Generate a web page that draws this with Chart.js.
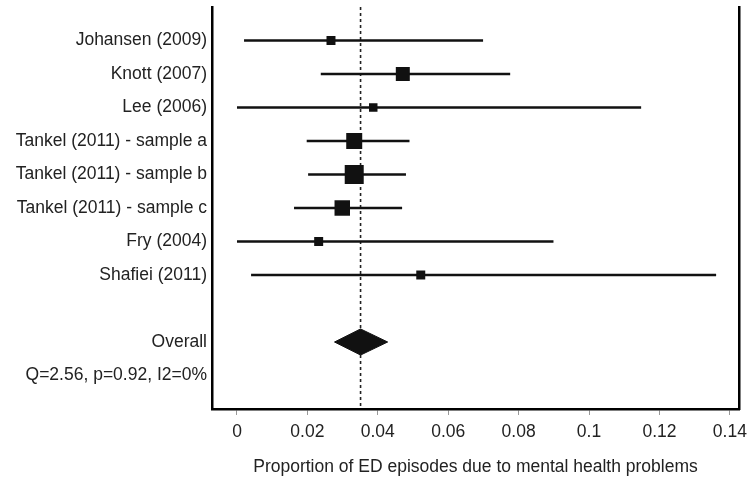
<!DOCTYPE html>
<html><head><meta charset="utf-8">
<script src="https://cdn.jsdelivr.net/npm/chart.js@4.4.0/dist/chart.umd.min.js"></script>
<style>html,body{margin:0;padding:0;background:#fff}</style>
</head><body>
<canvas id="c" width="748" height="482"></canvas>
<script>
// ---- data ----
const studies = ['Johansen (2009)', 'Knott (2007)', 'Lee (2006)', 'Tankel (2011) - sample a',
  'Tankel (2011) - sample b', 'Tankel (2011) - sample c', 'Fry (2004)', 'Shafiei (2011)'];
const estimates = [0.0267, 0.0471, 0.0387, 0.0333, 0.0333, 0.0299, 0.0232, 0.0522];
const lowerCI   = [0.0020, 0.0238, 0.0000, 0.0198, 0.0202, 0.0162, 0.0000, 0.0040];
const upperCI   = [0.0699, 0.0776, 0.1148, 0.0490, 0.0480, 0.0469, 0.0899, 0.1361];
const weights   = [5.9, 14.3, 5.3, 18.7, 26.4, 17.5, 5.9, 5.9];   // % weight (marker area)
const overallLabel = 'Overall';
const overallEst = 0.0351, overallLo = 0.0277, overallHi = 0.0428;
const heterogeneityText = 'Q=2.56, p=0.92, I2=0%';
const xTickValues = [0, 0.02, 0.04, 0.06, 0.08, 0.1, 0.12, 0.14];
const xTitle = 'Proportion of ED episodes due to mental health problems';

// ---- layout of rows (row index on the y scale) ----
const studyRows = studies.map((_, i) => i);
const overallRow = studies.length + 1;
const hetRow = overallRow + 1;
const rowLabels = {};
studies.forEach((s, i) => rowLabels[studyRows[i]] = s);
rowLabels[overallRow] = overallLabel;
rowLabels[hetRow] = heterogeneityText;
const labelRows = Object.keys(rowLabels).map(Number);

// ---- styles ----
const FONT = "'Liberation Sans', Arial, sans-serif";
const INK = '#111';
const MARKER_SCALE = 3.7;       // px side per sqrt(weight)
const DIAMOND_HALF = 0.39;      // half-height of diamond in row units

const datasets = [];
// study point estimates (drawn on top)
datasets.push({
  data: estimates.map((e, i) => ({x: e, y: studyRows[i]})),
  showLine: false,
  pointStyle: 'rect',
  pointRadius: weights.map(w => MARKER_SCALE * Math.sqrt(w) / Math.SQRT2),
  pointBackgroundColor: INK, pointBorderWidth: 0,
  order: 0
});
// confidence intervals
studies.forEach((s, i) => {
  datasets.push({
    data: [{x: lowerCI[i], y: studyRows[i]}, {x: upperCI[i], y: studyRows[i]}],
    showLine: true, borderColor: INK, borderWidth: 2.6, pointRadius: 0, order: 1
  });
});
// pooled estimate diamond
datasets.push({
  data: [{x: overallLo, y: overallRow}, {x: overallEst, y: overallRow - DIAMOND_HALF},
         {x: overallHi, y: overallRow}, {x: overallEst, y: overallRow + DIAMOND_HALF},
         {x: overallLo, y: overallRow}],
  showLine: true, fill: 'shape', backgroundColor: INK, borderColor: INK, borderWidth: 1,
  pointRadius: 0, tension: 0, order: 1
});
// dashed line at pooled estimate
datasets.push({
  data: [{x: overallEst, y: -1}, {x: overallEst, y: hetRow + 1}],
  showLine: true, borderColor: '#222', borderWidth: 1.6, borderDash: [3, 3],
  pointRadius: 0, order: 2
});

new Chart(document.getElementById('c'), {
  type: 'scatter',
  data: {datasets},
  options: {
    responsive: false, animation: false, devicePixelRatio: 1,
    layout: {autoPadding: false, padding: {top: 7, right: 9, left: 0, bottom: 0}},
    plugins: {legend: {display: false}, tooltip: {enabled: false}},
    scales: {
      x: {
        type: 'linear', min: -0.0071, max: 0.1426,
        afterBuildTicks: s => { s.ticks = xTickValues.map(v => ({value: v})); },
        afterFit: s => { s.height = 73; s.paddingLeft = 0; s.paddingRight = 0; },
        grid: {display: true, drawOnChartArea: false, drawTicks: true, tickLength: 6, color: '#999', lineWidth: 1},
        border: {display: true, color: '#000', width: 2.5},
        ticks: {padding: 7, color: '#222', font: {family: FONT, size: 17.5}, maxRotation: 0,
                callback: v => String(v)},
        title: {display: true, text: xTitle, color: '#222', font: {family: FONT, size: 17.5},
                padding: {top: 0, bottom: 4}}
      },
      y: {
        type: 'linear', min: -1, max: hetRow + 1, reverse: true,
        afterBuildTicks: s => { s.ticks = labelRows.map(v => ({value: v})); },
        afterFit: s => { s.width = 212; s.paddingTop = 0; s.paddingBottom = 0; },
        grid: {display: false, drawTicks: false},
        border: {display: true, color: '#000', width: 2.5},
        ticks: {padding: 5, color: '#222', font: {family: FONT, size: 17.5},
                callback: v => rowLabels[v] || ''}
      },
      yRight: {
        type: 'linear', position: 'right', min: 0, max: 1,
        afterFit: s => { s.width = 0; s.paddingTop = 0; s.paddingBottom = 0; },
        grid: {display: false, drawTicks: false},
        border: {display: true, color: '#000', width: 2.5},
        ticks: {display: false}
      }
    }
  }
});
</script>
</body></html>
